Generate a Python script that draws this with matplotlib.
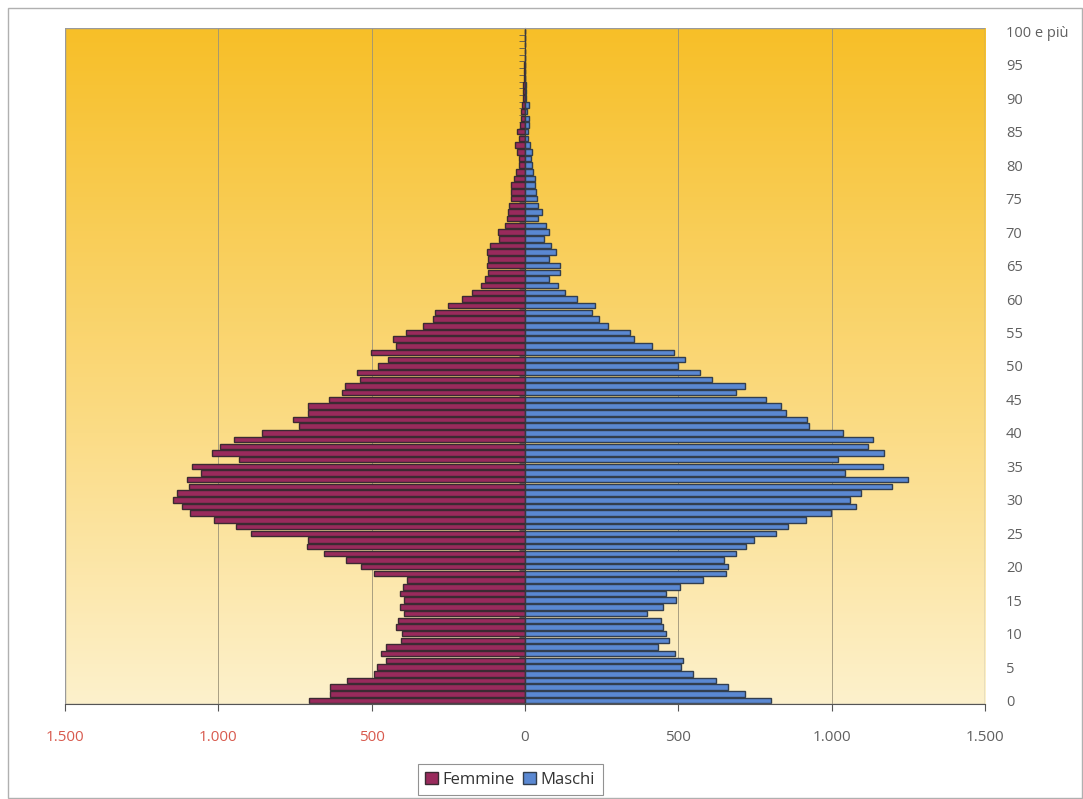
import numpy as np
import matplotlib
matplotlib.use('Agg')
import matplotlib.pyplot as plt
from matplotlib.patches import Rectangle
from matplotlib.colors import LinearSegmentedColormap

# Età da 0 a 100 (ultima classe "100 e più")
ages = np.arange(0, 101)

femmine = [704, 636, 636, 580, 491, 481, 452, 471, 452, 405,
           400, 421, 415, 396, 409, 396, 407, 398, 386, 491,
           535, 584, 656, 710, 708, 892, 943, 1013, 1092, 1117,
           1147, 1135, 1096, 1102, 1057, 1086, 931, 1019, 995, 949,
           859, 736, 758, 706, 708, 640, 596, 588, 537, 547,
           479, 446, 501, 421, 429, 388, 334, 301, 295, 250,
           206, 173, 145, 130, 119, 124, 119, 124, 113, 84,
           88, 66, 58, 56, 53, 47, 47, 47, 37, 30,
           21, 21, 26, 32, 21, 25, 17, 13, 13, 9,
           7, 7, 5, 4, 3, 2, 1, 1, 0, 0, 0]

maschi = [803, 716, 663, 623, 547, 510, 514, 489, 435, 471,
          460, 450, 444, 398, 450, 491, 460, 504, 582, 654,
          663, 650, 689, 722, 747, 819, 859, 916, 999, 1081,
          1061, 1096, 1197, 1249, 1042, 1168, 1022, 1172, 1119, 1135,
          1038, 925, 918, 852, 834, 786, 687, 716, 609, 572,
          499, 522, 485, 415, 357, 343, 270, 241, 219, 229,
          169, 130, 108, 78, 115, 115, 77, 100, 84, 62,
          78, 68, 44, 54, 44, 39, 37, 32, 32, 26,
          23, 19, 23, 17, 11, 10, 13, 13, 8, 13,
          2, 2, 2, 1, 1, 1, 0, 0, 0, 0, 0]

x_ticks = [-1500, -1000, -500, 0, 500, 1000, 1500]
x_labels = ['1.500', '1.000', '500', '0', '500', '1.000', '1.500']
y_ticks = list(range(0, 101, 5))
y_labels = [str(v) for v in range(0, 100, 5)] + ['100 e più']

plt.rcParams['font.family'] = ['Open Sans', 'DejaVu Sans']

fig = plt.figure(figsize=(10.83, 7.99), dpi=100)
ax = fig.add_axes([0.060, 0.119, 0.8495, 0.846])

# sfondo sfumato dell'area del grafico
cmap = LinearSegmentedColormap.from_list(
    'bg', [(0.0, '#fdf1cc'), (0.4, '#fbdc86'), (1.0, '#f7bf28')])
grad = np.linspace(0, 1, 256).reshape(-1, 1)
ax.imshow(grad, cmap=cmap, origin='lower', aspect='auto',
          extent=[-1500, 1500, -0.5, 100.5], zorder=0)

ax.barh(ages, -np.array(femmine), height=0.82, color='#992a5c',
        edgecolor='#3b2a32', linewidth=1.0, label='Femmine', zorder=3)
ax.barh(ages, maschi, height=0.82, color='#5a88d2',
        edgecolor='#323e4e', linewidth=1.0, label='Maschi', zorder=3)

ax.set_xlim(-1500, 1500)
ax.set_ylim(-0.5, 100.5)

# griglia verticale
ax.set_xticks(x_ticks)
ax.set_xticklabels(x_labels)
ax.grid(axis='x', color='#9a9278', linewidth=0.6, zorder=1)
ax.set_axisbelow(False)
for lbl, v in zip(ax.get_xticklabels(), x_ticks):
    lbl.set_color('#d85a4e' if v < 0 else '#606060')
ax.tick_params(axis='x', direction='out', length=5, width=0.8,
               color='#555555', labelsize=11, pad=14)

# asse delle categorie al centro
ax.spines['left'].set_position(('data', 0))
ax.spines['left'].set_color('#3a3a3a')
ax.spines['left'].set_zorder(4)
ax.set_yticks(np.arange(0, 101) + 0.5)
ax.set_yticklabels([])
ax.tick_params(axis='y', direction='out', length=4, width=0.6,
               color='#555555')
ax.spines['right'].set_visible(False)
ax.spines['top'].set_visible(False)
ax.spines['bottom'].set_color('#555555')
ax.add_patch(Rectangle((0, 0), 1, 1, transform=ax.transAxes, fill=False,
                       edgecolor='#9a9a9a', linewidth=1.0, zorder=5))

# etichette delle età a destra
sec = ax.secondary_yaxis('right')
sec.set_yticks(y_ticks)
sec.set_yticklabels(y_labels)
sec.tick_params(length=0, pad=15, labelsize=10.5, labelcolor='#606060')
sec.spines['right'].set_visible(False)

leg = fig.legend(loc='center', bbox_to_anchor=(0.471, 0.024), ncol=2,
                 frameon=True, fancybox=False, fontsize=12,
                 handlelength=0.75, handleheight=0.75, handletextpad=0.3,
                 columnspacing=0.5, borderpad=0.45)
leg.get_frame().set_edgecolor('#777777')
leg.get_frame().set_linewidth(0.8)
for t in leg.get_texts():
    t.set_color('#333333')

# cornice esterna
fig.patches.append(Rectangle((8 / 1083, 0.001), 1074 / 1083, 1 - 8 / 799 - 0.001,
                             transform=fig.transFigure, fill=False,
                             edgecolor='#b0b0b0', linewidth=1.0))

plt.savefig('out.png', dpi=100)
